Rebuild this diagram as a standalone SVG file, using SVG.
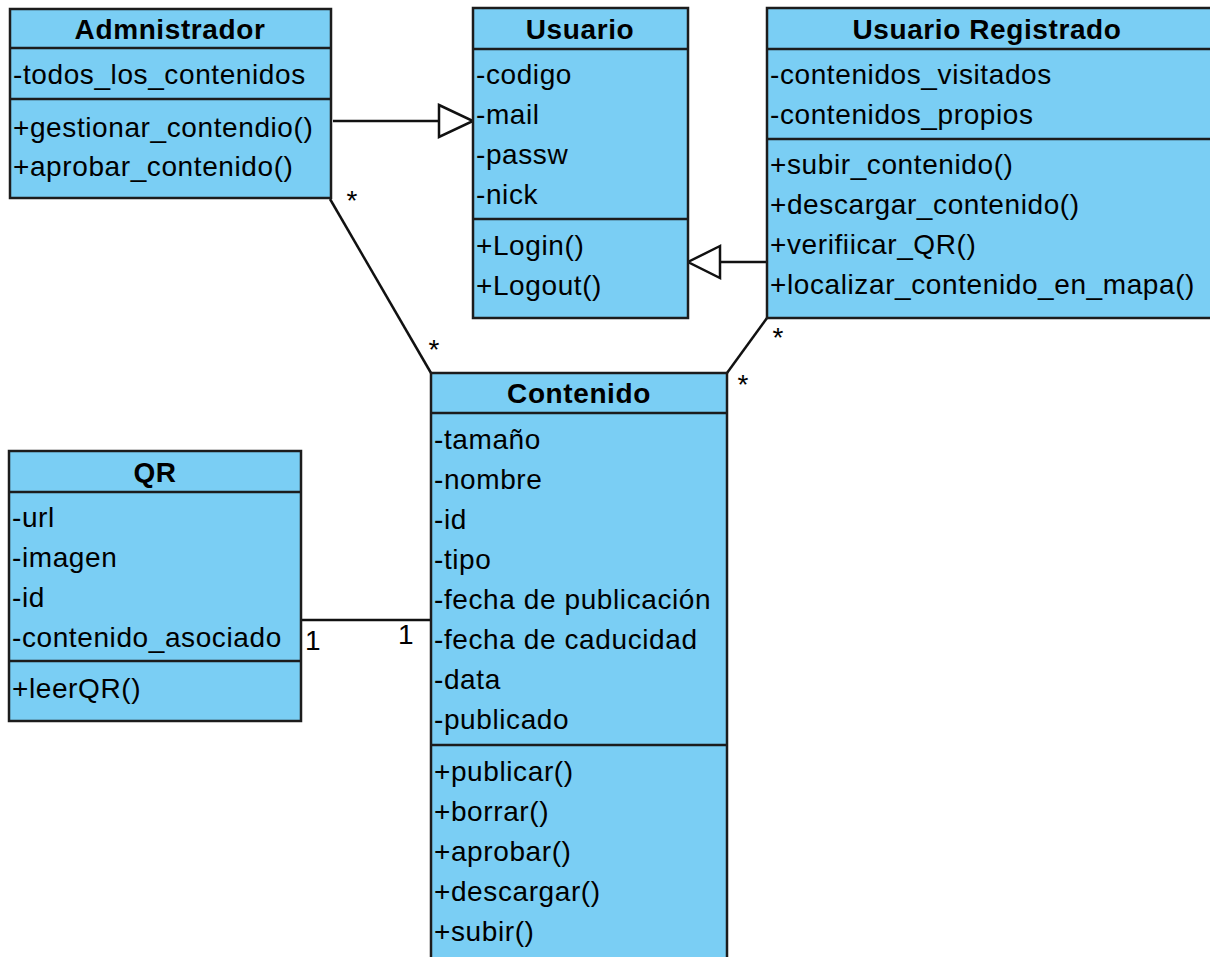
<svg xmlns="http://www.w3.org/2000/svg" width="1210" height="957" viewBox="0 0 1210 957">
  <style>
    .box { fill: #7acef4; stroke: #1c1c1c; stroke-width: 2.5; }
    .sep { stroke: #1c1c1c; stroke-width: 2.5; }
    .title { font-family: "Liberation Sans", Arial, sans-serif; font-size: 28px; font-weight: bold; fill: #000; text-anchor: middle; letter-spacing: 0.6px; }
    .item { font-family: "Liberation Sans", Arial, sans-serif; font-size: 28px; fill: #000; letter-spacing: 0.6px; }
    .edge { stroke: #111; stroke-width: 2.5; fill: none; }
    .head { stroke: #111; stroke-width: 2.5; fill: #fff; }
    .mult { font-family: "Liberation Sans", Arial, sans-serif; font-size: 28px; fill: #000; text-anchor: middle; }
    .one { font-family: "Liberation Sans", Arial, sans-serif; font-size: 28px; fill: #000; }
  </style>

  <!-- associations and generalizations -->
  <g id="connectors">
    <line class="edge" x1="333" y1="121" x2="439" y2="121"/>
    <polygon class="head" points="439,105 473,121 439,137"/>
    <line class="edge" x1="767" y1="262" x2="720" y2="262"/>
    <polygon class="head" points="720,246 688,262 720,278"/>
    <line class="edge" x1="330" y1="199" x2="431" y2="373"/>
    <line class="edge" x1="767" y1="318" x2="727" y2="373"/>
    <line class="edge" x1="301" y1="620" x2="431" y2="620"/>
    <text class="mult" x="352" y="210">*</text>
    <text class="mult" x="434" y="359">*</text>
    <text class="mult" x="778" y="347">*</text>
    <text class="mult" x="743" y="394">*</text>
    <text class="one" x="305" y="650">1</text>
    <text class="one" x="398" y="644">1</text>
  </g>

  <g id="administrador">
    <rect class="box" x="10" y="9" width="321" height="189"/>
    <line class="sep" x1="10" y1="48" x2="331" y2="48"/>
    <line class="sep" x1="10" y1="99" x2="331" y2="99"/>
    <text class="title" x="170" y="39">Admnistrador</text>
    <text class="item" x="13" y="84">-todos_los_contenidos</text>
    <text class="item" x="13" y="137">+gestionar_contendio()</text>
    <text class="item" x="13" y="176">+aprobar_contenido()</text>
  </g>

  <g id="usuario">
    <rect class="box" x="473" y="8" width="215" height="310"/>
    <line class="sep" x1="473" y1="49" x2="688" y2="49"/>
    <line class="sep" x1="473" y1="219" x2="688" y2="219"/>
    <text class="title" x="580" y="39">Usuario</text>
    <text class="item" x="476" y="84">-codigo</text>
    <text class="item" x="476" y="124">-mail</text>
    <text class="item" x="476" y="164">-passw</text>
    <text class="item" x="476" y="204">-nick</text>
    <text class="item" x="476" y="255">+Login()</text>
    <text class="item" x="476" y="295">+Logout()</text>
  </g>

  <g id="usuario-registrado">
    <rect class="box" x="767" y="8" width="480" height="310"/>
    <line class="sep" x1="767" y1="49" x2="1247" y2="49"/>
    <line class="sep" x1="767" y1="139" x2="1247" y2="139"/>
    <text class="title" x="987" y="39">Usuario Registrado</text>
    <text class="item" x="770" y="84">-contenidos_visitados</text>
    <text class="item" x="770" y="124">-contenidos_propios</text>
    <text class="item" x="770" y="174">+subir_contenido()</text>
    <text class="item" x="770" y="214">+descargar_contenido()</text>
    <text class="item" x="770" y="254">+verifiicar_QR()</text>
    <text class="item" x="770" y="294">+localizar_contenido_en_mapa()</text>
  </g>

  <g id="qr">
    <rect class="box" x="9" y="451" width="292" height="270"/>
    <line class="sep" x1="9" y1="492" x2="301" y2="492"/>
    <line class="sep" x1="9" y1="661" x2="301" y2="661"/>
    <text class="title" x="155" y="482">QR</text>
    <text class="item" x="12" y="527">-url</text>
    <text class="item" x="12" y="567">-imagen</text>
    <text class="item" x="12" y="607">-id</text>
    <text class="item" x="12" y="647">-contenido_asociado</text>
    <text class="item" x="12" y="698">+leerQR()</text>
  </g>

  <g id="contenido">
    <rect class="box" x="431" y="373" width="296" height="610"/>
    <line class="sep" x1="431" y1="413" x2="727" y2="413"/>
    <line class="sep" x1="431" y1="745" x2="727" y2="745"/>
    <text class="title" x="579" y="403">Contenido</text>
    <text class="item" x="434" y="449">-tamaño</text>
    <text class="item" x="434" y="489">-nombre</text>
    <text class="item" x="434" y="529">-id</text>
    <text class="item" x="434" y="569">-tipo</text>
    <text class="item" x="434" y="609">-fecha de publicación</text>
    <text class="item" x="434" y="649">-fecha de caducidad</text>
    <text class="item" x="434" y="689">-data</text>
    <text class="item" x="434" y="729">-publicado</text>
    <text class="item" x="434" y="781">+publicar()</text>
    <text class="item" x="434" y="821">+borrar()</text>
    <text class="item" x="434" y="861">+aprobar()</text>
    <text class="item" x="434" y="901">+descargar()</text>
    <text class="item" x="434" y="941">+subir()</text>
  </g>
</svg>
